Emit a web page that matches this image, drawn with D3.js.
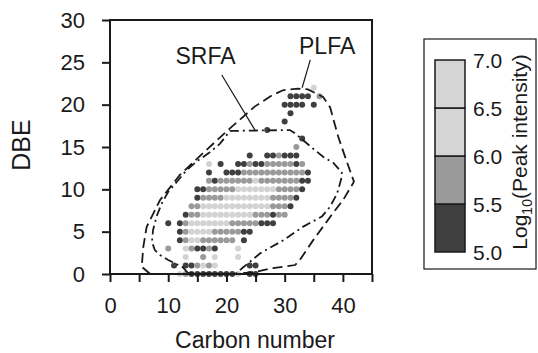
<!DOCTYPE html>
<html><head><meta charset="utf-8">
<script src="https://cdn.jsdelivr.net/npm/d3@7/dist/d3.min.js"></script>
<style>
body{margin:0;background:#fff}
svg{display:block}
text{font-family:"Liberation Sans",Arial,Helvetica,sans-serif;fill:#1a1a1a}
</style>
</head><body>
<svg id="chart" width="538" height="353"></svg>
<script>
// ---------------- data ----------------
// Carbon numbers covered by each row string (first character = C10)
const carbonStart = 10;
const dbeRows = [0,1,2,3,4,5,6,7,8,9,10,11,12,13,14,15,16,17,18,19,20,21,22];
// one string per DBE row; d = 5.0-5.5, m = 5.5-6.0, l = 6.0-7.0 (log10 peak intensity), . = no peak
const rowCodes = [
  "..lmddddddddl.dd...........", // 0
  ".d.ddmlml.....dd...........", // 1
  "...l..m.l...l..............", // 2
  "m..lmddmd...l..............", // 3
  "..dmllmmmmmm.d.............", // 4
  "..dmllllmmmmmdd............", // 5
  "d.dmlllllllmmmmmddd........", // 6
  "...dmmlllllllllmmmdmm......", // 7
  "....mmllllllllllllmmmd.....", // 8
  ".....dmmmmllllllllmmmmd....", // 9
  ".....ddmmmmmlllllllmmmmd...", // 10
  ".......mdmmmmmmlmmmmmmmdd..", // 11
  ".......d..dddmmmmmmmmmmmd..", // 12
  ".......l.d..ddmddmmmmmdm...", // 13
  "..............d..ddmddd....", // 14
  "......................m....", // 15
  ".......................d...", // 16
  ".................d.........", // 17
  "....................d......", // 18
  ".....................d.....", // 19
  "....................dddd.d.", // 20
  ".....................dddd.m", // 21
  ".........................l."  // 22
];
const levelValues = {d: 5.25, m: 5.75, l: 6.25};

const xTicks = [0,5,10,15,20,25,30,35,40,45];
const xTickLabels = [0,10,20,30,40];
const yTicks = [0,5,10,15,20,25,30];

const legendBreaks = [5.0,5.5,6.0,6.5,7.0];
const legendLabels = ["5.0","5.5","6.0","6.5","7.0"];
const legendColors = ["#3f3f3f","#9a9a9a","#d5d5d5","#d5d5d5"];
const dotColors = ["#3f3f3f","#9a9a9a","#d3d3d3","#d3d3d3"];

// contours [carbon number, DBE]
const plfaContour = [
  [6.9,0],[5.45,0.86],[5.72,3.22],[6.3,5.58],[8.6,8.74],[12.0,11.7],[16.0,14.3],
  [20.6,17.2],[24.9,19.8],[27.8,21.1],[29.7,21.7],[32.3,21.9],[34.0,21.8],[36.6,20.9],
  [37.8,19.7],[39.2,16.2],[40.4,13.8],[41.9,10.9],[40.0,8.7],[38.3,7.2],[34.9,4.0],
  [32.6,1.65],[31.8,1.06],[28.0,0.7],[24.9,0.24],[21.5,0]
];
const srfaContour = [
  [13.4,0.1],[12.5,0.8],[10.0,1.65],[8.6,2.24],[7.7,2.83],[7.2,3.8],[7.4,5.2],[8.0,6.8],
  [8.9,8.35],[10.0,9.7],[11.5,10.9],[13.2,12.3],[14.9,13.3],[17.2,14.4],[18.9,15.4],
  [20.6,16.9],[30.9,17.0],[31.8,16.6],[33.0,15.9],[34.9,14.8],[36.6,13.85],[38.4,13.1],
  [39.8,12.0],[39.8,11.45],[39.5,10.7],[39.0,9.5],[37.8,7.95],[36.4,6.8],[33.2,5.6],
  [29.8,4.0],[25.8,2.45],[22.9,0.8],[21.5,0]
];
const annotations = [
  {label:"SRFA", at:[16.4,24.8], from:[19.2,23.5], to:[24.9,17.0]},
  {label:"PLFA", at:[37.3,26.0], from:[34.4,25.3], to:[33.0,22.0]}
];

// ---------------- chart ----------------
const svg = d3.select("#chart");
const x = d3.scaleLinear().domain([0,45]).range([110,372]);
const y = d3.scaleLinear().domain([0,30]).range([274,20]);
const color = d3.scaleThreshold().domain([5.5,6.0,6.5]).range(dotColors);
const legendColor = d3.scaleThreshold().domain([5.5,6.0,6.5]).range(legendColors);

const points = [];
rowCodes.forEach((s,i)=>{
  for(let k=0;k<s.length;k++){
    const ch = s[k];
    if(levelValues[ch]!==undefined) points.push({c: carbonStart+k, dbe: dbeRows[i], v: levelValues[ch]});
  }
});

// dots
svg.append("g").selectAll("circle").data(points).join("circle")
  .attr("cx",d=>x(d.c)).attr("cy",d=>y(d.dbe)).attr("r",3)
  .attr("fill",d=>color(d.v));

// contours
const line = d3.line().x(d=>x(d[0])).y(d=>y(d[1]));
svg.append("path").attr("d",line(plfaContour)+"Z")
  .attr("fill","none").attr("stroke","#1a1a1a").attr("stroke-width",1.8)
  .attr("stroke-dasharray","10,5");
svg.append("path").attr("d",line(srfaContour)+"Z")
  .attr("fill","none").attr("stroke","#1a1a1a").attr("stroke-width",1.8)
  .attr("stroke-dasharray","9,4,2,4");

// annotations
annotations.forEach(a=>{
  svg.append("line")
    .attr("x1",x(a.from[0])).attr("y1",y(a.from[1]))
    .attr("x2",x(a.to[0])).attr("y2",y(a.to[1]))
    .attr("stroke","#1a1a1a").attr("stroke-width",1.2);
  svg.append("text").attr("x",x(a.at[0])).attr("y",y(a.at[1]))
    .attr("text-anchor","middle").style("font-size","23px").text(a.label);
});

// frame
svg.append("rect").attr("x",x(0)).attr("y",y(30))
  .attr("width",x(45)-x(0)).attr("height",y(0)-y(30))
  .attr("fill","none").attr("stroke","#1a1a1a").attr("stroke-width",2);

// axes
const xAxis = svg.append("g").attr("transform",`translate(0,${y(0)})`)
  .call(d3.axisBottom(x).tickValues(xTicks).tickSize(8).tickPadding(15)
    .tickFormat(d=>xTickLabels.includes(d)?d:""));
const yAxis = svg.append("g").attr("transform",`translate(${x(0)},0)`)
  .call(d3.axisLeft(y).tickValues(yTicks).tickSize(8).tickPadding(17));
[xAxis,yAxis].forEach(g=>{
  g.select(".domain").remove();
  g.selectAll(".tick line").attr("stroke","#1a1a1a").attr("stroke-width",2);
  g.selectAll(".tick text").style("font-size","22px").style("font-family",'"Liberation Sans",Arial,sans-serif').attr("fill","#1a1a1a");
});

// axis titles
svg.append("text").attr("x",255).attr("y",348).attr("text-anchor","middle")
  .style("font-size","23px").text("Carbon number");
svg.append("text").attr("transform","translate(30,145) rotate(-90)")
  .attr("text-anchor","middle").style("font-size","25px").text("DBE");

// legend
const lg = svg.append("g");
lg.append("rect").attr("x",424).attr("y",39).attr("width",112).attr("height",230)
  .attr("fill","none").attr("stroke","#1a1a1a").attr("stroke-width",1.2);
const ly = d3.scaleLinear().domain([5,7]).range([252,60]);
const segs = d3.pairs(legendBreaks);
lg.selectAll("rect.seg").data(segs).join("rect").attr("class","seg")
  .attr("x",435).attr("width",30)
  .attr("y",d=>ly(d[1])).attr("height",d=>ly(d[0])-ly(d[1]))
  .attr("fill",d=>legendColor(d[0]+0.01)).attr("stroke","#1a1a1a").attr("stroke-width",1.5);
lg.selectAll("text.lab").data(legendBreaks).join("text").attr("class","lab")
  .attr("x",473).attr("y",d=>ly(d)).attr("dy","0.36em")
  .style("font-size","21px").text((d,i)=>legendLabels[i]);
const lt = lg.append("text").attr("transform","translate(527,152) rotate(-90)")
  .attr("text-anchor","middle").style("font-size","21px");
lt.append("tspan").text("Log");
lt.append("tspan").text("10").style("font-size","14px").attr("dy","5");
lt.append("tspan").text("(Peak intensity)").attr("dy","-5");
</script>
</body></html>
